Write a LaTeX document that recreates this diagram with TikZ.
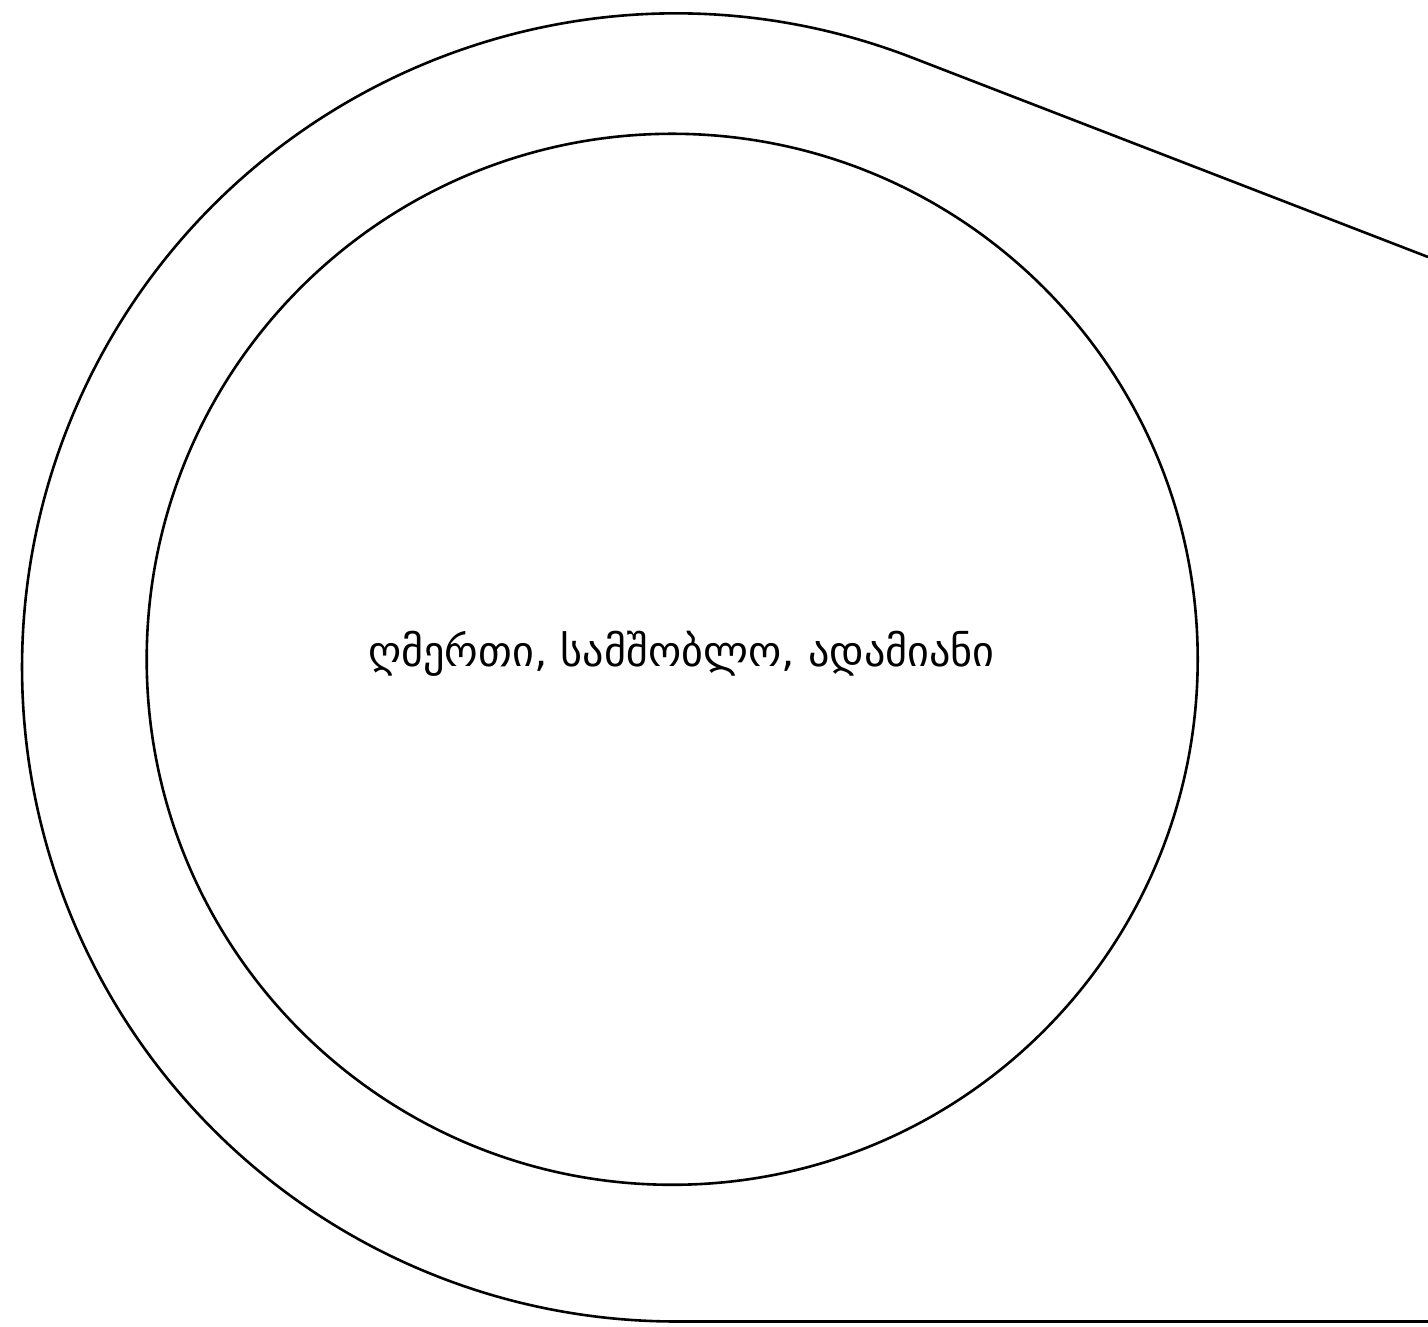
\documentclass[tikz,border=0pt]{standalone}
\usepackage{fontspec}
\usetikzlibrary{calc}
\newfontfamily\geofont{DejaVu Sans}
\begin{document}
\begin{tikzpicture}[x=1pt,y=1pt,
  outline/.style={draw=black,line width=2.6pt},
  label/.style={font=\geofont\fontsize{42.2}{50}\selectfont,inner sep=0pt,anchor=base}]
\useasboundingbox (0,0) rectangle (1428,1327);
\coordinate (P) at (1428,1070);
\coordinate (C) at (676,659.5);
\coordinate (T) at ($(C)+(68.87:654)$);
\draw[outline] (P) -- (T) arc[start angle=68.87,end angle=270,radius=654] -- (1428,5.5);
\node[outline,circle,minimum size=1051pt,inner sep=0pt] (inner) at (672.2,667.7) {};
\node[label] (txt) at (681.5,660) {ღმერთი, სამშობლო, ადამიანი};
\end{tikzpicture}
\end{document}
